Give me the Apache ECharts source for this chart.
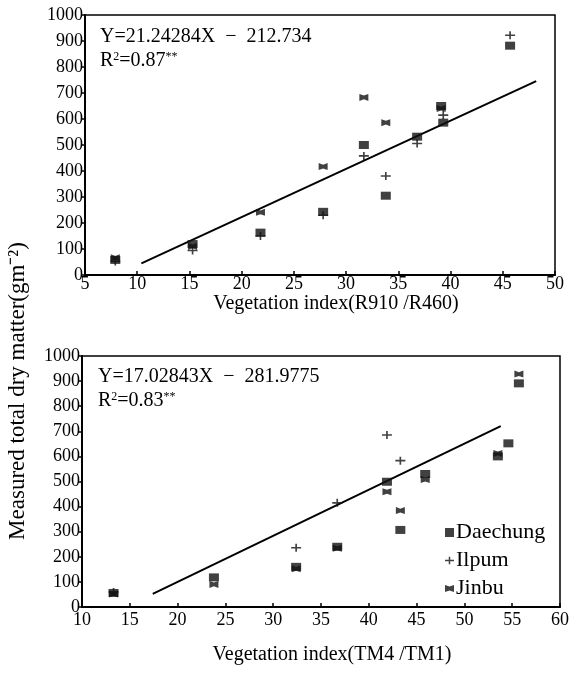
<!DOCTYPE html>
<html>
<head>
<meta charset="utf-8">
<script src="https://cdn.jsdelivr.net/npm/echarts@6/dist/echarts.min.js"></script>
<style>
  html, body { margin: 0; padding: 0; background: #fff; }
  #chart { width: 573px; height: 673px; }
</style>
</head>
<body>
<div id="chart"></div>
<script>
// top panel: vegetation index R910/R460
var topDaechung = [[7.9, 58], [15.3, 119], [21.8, 163], [27.8, 243], [31.7, 500], [33.8, 305], [36.8, 532], [39.1, 650], [39.3, 586], [45.7, 882]];
var topIlpum = [[7.9, 52], [15.3, 94], [21.8, 150], [27.8, 230], [31.7, 458], [33.8, 381], [36.8, 506], [39.3, 615], [45.7, 922]];
var topJinbu = [[7.9, 66], [15.3, 110], [21.8, 241], [27.8, 417], [31.7, 683], [33.8, 586], [39.1, 640]];
var topFit = [[10.4, 45], [48.2, 746]];

// bottom panel: vegetation index TM4/TM1
var botDaechung = [[13.3, 56], [23.8, 118], [32.4, 160], [36.7, 240], [41.9, 499], [43.3, 307], [45.9, 530], [53.5, 600], [54.6, 652], [55.7, 891]];
var botIlpum = [[13.3, 60], [32.4, 236], [36.7, 415], [41.9, 685], [43.3, 583]];
var botJinbu = [[13.3, 52], [23.8, 90], [32.4, 152], [36.7, 234], [41.9, 459], [43.3, 384], [45.9, 508], [53.5, 612], [55.7, 928]];
var botFit = [[17.4, 52], [53.8, 721]];

var FONT = 'Liberation Serif';
var squareSym = 'rect';
var plusSym = 'path://M4,0 H6 V4 H11 V6 H6 V10 H4 V6 H-1 V4 H4 Z';
var bowSym = 'path://M0,0 L5,1.8 L10,0 L10,8 L5,6.2 L0,8 Z';

function pts(name, data, sym, size, xi) {
  return {
    name: name, type: 'scatter', xAxisIndex: xi, yAxisIndex: xi,
    data: data, symbol: sym, symbolSize: size,
    itemStyle: { color: '#111' }, z: 3
  };
}

function fit(data, xi) {
  return {
    type: 'line', xAxisIndex: xi, yAxisIndex: xi, data: data,
    symbol: 'none', lineStyle: { color: '#000', width: 2 }, silent: true, z: 2
  };
}

function xAx(gi, min, max, margin) {
  return {
    gridIndex: gi, type: 'value', min: min, max: max, interval: 5,
    axisLine: { lineStyle: { color: '#000', width: 2 } },
    axisTick: { inside: true, length: 4, lineStyle: { color: '#000', width: 1.5 } },
    axisLabel: { color: '#000', fontFamily: FONT, fontSize: 18, margin: margin },
    splitLine: { show: false }
  };
}

function yAx(gi) {
  return {
    gridIndex: gi, type: 'value', min: 0, max: 1000, interval: 100,
    axisLine: { lineStyle: { color: '#000', width: 2 } },
    axisTick: { length: 3, lineStyle: { color: '#000', width: 1.5 } },
    axisLabel: { color: '#000', fontFamily: FONT, fontSize: 18, margin: 2,
      formatter: function (v) { return String(v); } },
    splitLine: { show: false }
  };
}

var richEq = {
  n: { fontFamily: FONT, fontSize: 20, color: '#000' },
  s: { fontFamily: FONT, fontSize: 12, color: '#000', verticalAlign: 'top', padding: [0, 0, 6, 0] }
};

var chart = echarts.init(document.getElementById('chart'));
chart.setOption({
  animation: false,
  backgroundColor: '#fff',
  textStyle: { fontFamily: FONT },
  grid: [
    { left: 85, top: 15, width: 470, height: 260, show: true, borderColor: '#000', borderWidth: 1.5 },
    { left: 82, top: 356, width: 478, height: 251, show: true, borderColor: '#000', borderWidth: 1.5 }
  ],
  xAxis: [xAx(0, 5, 50, 0), xAx(1, 10, 60, 4)],
  yAxis: [yAx(0), yAx(1)],
  legend: {
    left: 440, top: 516, orient: 'vertical', itemGap: 5,
    itemWidth: 9, itemHeight: 9,
    data: ['Daechung', 'Ilpum', 'Jinbu'],
    textStyle: { color: '#000', fontFamily: FONT, fontSize: 22, lineHeight: 23, padding: [0, 0, 0, -3] }
  },
  graphic: [
    { type: 'text', left: 100, top: 27, style: { text: 'Y=21.24284X  −  212.734', font: '20px ' + FONT, fill: '#000' } },
    { type: 'text', left: 100, top: 51, style: { text: '{n|R}{s|2}{n|=0.87}{s|**}', rich: richEq } },
    { type: 'text', left: 98, top: 367, style: { text: 'Y=17.02843X  −  281.9775', font: '20px ' + FONT, fill: '#000' } },
    { type: 'text', left: 98, top: 391, style: { text: '{n|R}{s|2}{n|=0.83}{s|**}', rich: richEq } },
    { type: 'text', x: 336, y: 304,
      style: { text: 'Vegetation index(R910 /R460)', font: '20px ' + FONT, fill: '#000', align: 'center', verticalAlign: 'middle' } },
    { type: 'text', x: 332, y: 655,
      style: { text: 'Vegetation index(TM4 /TM1)', font: '20px ' + FONT, fill: '#000', align: 'center', verticalAlign: 'middle' } },
    { type: 'text', x: 18, y: 391, rotation: Math.PI / 2,
      style: { text: 'Measured total dry matter(gm⁻²)', font: '23px ' + FONT, fill: '#000', align: 'center', verticalAlign: 'middle' } }
  ],
  series: [
    fit(topFit, 0),
    pts('Daechung', topDaechung, squareSym, [10, 8], 0),
    pts('Ilpum', topIlpum, plusSym, [10, 8], 0),
    pts('Jinbu', topJinbu, bowSym, [9, 7], 0),
    fit(botFit, 1),
    pts('Daechung', botDaechung, squareSym, [10, 8], 1),
    pts('Ilpum', botIlpum, plusSym, [10, 8], 1),
    pts('Jinbu', botJinbu, bowSym, [9, 7], 1)
  ]
});
</script>
</body>
</html>
